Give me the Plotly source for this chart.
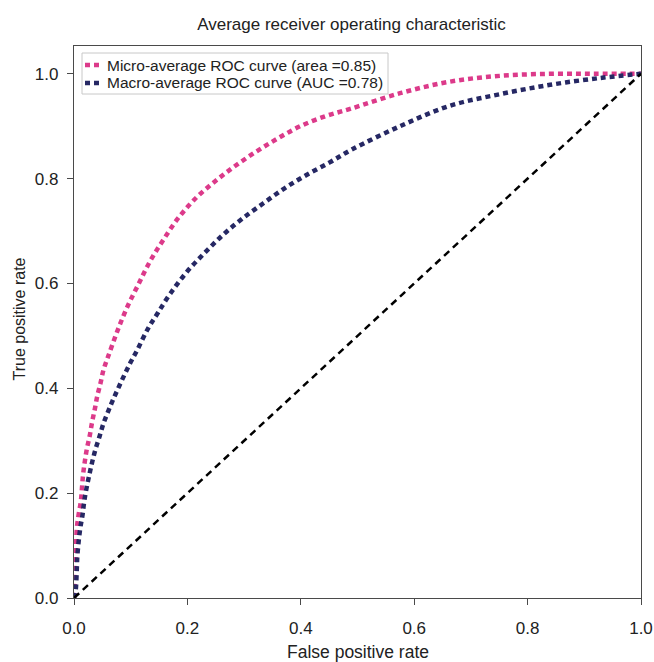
import plotly.graph_objects as go

# Micro-average ROC curve (area = 0.85)
micro_fpr = [0.0, 0.003, 0.005, 0.008, 0.012, 0.014, 0.016, 0.019, 0.023, 0.028, 0.032, 0.037, 0.041,
             0.047, 0.052, 0.060, 0.075, 0.093, 0.113, 0.134, 0.158, 0.184, 0.215, 0.249, 0.284,
             0.322, 0.360, 0.399, 0.443, 0.487, 0.575, 0.663, 0.751, 0.840, 0.920, 1.0]
micro_tpr = [0.0, 0.07, 0.133, 0.158, 0.184, 0.209, 0.235, 0.260, 0.286, 0.311, 0.336, 0.362, 0.385,
             0.411, 0.435, 0.460, 0.505, 0.553, 0.597, 0.642, 0.684, 0.725, 0.763, 0.795, 0.824,
             0.852, 0.877, 0.900, 0.919, 0.933, 0.963, 0.985, 0.996, 1.0, 1.0, 1.0]

# Macro-average ROC curve (AUC = 0.78)
macro_fpr = [0.0, 0.003, 0.004, 0.005, 0.006, 0.011, 0.015, 0.018, 0.022, 0.027, 0.032, 0.038, 0.045,
             0.052, 0.061, 0.070, 0.080, 0.090, 0.100, 0.111, 0.131, 0.148, 0.170, 0.199, 0.231,
             0.263, 0.296, 0.334, 0.372, 0.410, 0.451, 0.489, 0.575, 0.663, 0.751, 0.840, 0.928, 1.0]
macro_tpr = [0.0, 0.015, 0.031, 0.057, 0.082, 0.133, 0.158, 0.184, 0.209, 0.235, 0.259, 0.284, 0.308,
             0.333, 0.358, 0.381, 0.405, 0.428, 0.450, 0.472, 0.515, 0.544, 0.581, 0.622, 0.659,
             0.693, 0.723, 0.753, 0.782, 0.807, 0.831, 0.855, 0.900, 0.939, 0.961, 0.979, 0.992, 1.0]

# Chance line
chance_x = [0.0, 1.0]
chance_y = [0.0, 1.0]

tick_vals = [0.0, 0.2, 0.4, 0.6, 0.8, 1.0]
tick_text = ["0.0", "0.2", "0.4", "0.6", "0.8", "1.0"]

series_names = ["Micro-average ROC curve (area =0.85)", "Macro-average ROC curve (AUC =0.78)"]
series_colors = ["#dc3a8a", "#262864"]

FONT = "Liberation Sans, Arial, Helvetica, sans-serif"
TXT = "#222222"

# plot-area geometry in pixels (for placing decorations)
W, H = 654, 662
L, R, T, B = 74, 13, 46, 64
PW, PH = W - L - R, H - T - B


def px_x(px):
    return (px - L) / PW


def px_y(py):
    return (H - B - py) / PH


DOT = "5px,4px"

fig = go.Figure()
for fx, ty, name, col in [(micro_fpr, micro_tpr, series_names[0], series_colors[0]),
                          (macro_fpr, macro_tpr, series_names[1], series_colors[1])]:
    fig.add_trace(go.Scatter(
        x=fx, y=ty, mode="lines", line_shape="spline", name=name, showlegend=False,
        line=dict(color=col, width=4.5, dash=DOT),
    ))
fig.add_trace(go.Scatter(
    x=chance_x, y=chance_y, mode="lines", showlegend=False,
    line=dict(color="black", width=2.5, dash="7px,5px"),
))

# custom legend (box, samples, labels)
shapes = [dict(type="rect", xref="paper", yref="paper",
               x0=px_x(82), x1=px_x(388), y0=px_y(53), y1=px_y(94),
               line=dict(color="#c8c8c8", width=1), fillcolor="rgba(255,255,255,0.9)", layer="above")]
annotations = []
for i, (name, col) in enumerate(zip(series_names, series_colors)):
    yy = 65 + i * 18
    shapes.append(dict(type="line", xref="paper", yref="paper",
                       x0=px_x(85), x1=px_x(99), y0=px_y(yy), y1=px_y(yy),
                       line=dict(color=col, width=4.5, dash=DOT), layer="above"))
    annotations.append(dict(text=name, xref="paper", yref="paper", x=px_x(105), y=px_y(yy),
                            xanchor="left", yanchor="middle", showarrow=False,
                            font=dict(size=15.5, color=TXT, family=FONT)))

# axis titles
annotations.append(dict(text="False positive rate", xref="paper", yref="paper",
                        x=px_x(357.5), y=px_y(652), xanchor="center", yanchor="middle",
                        showarrow=False, font=dict(size=17.5, color=TXT, family=FONT)))
annotations.append(dict(text="True positive rate", xref="paper", yref="paper",
                        x=px_x(18.5), y=px_y(319), xanchor="center", yanchor="middle",
                        textangle=-90, showarrow=False, font=dict(size=16, color=TXT, family=FONT)))

fig.update_layout(
    width=W, height=H,
    margin=dict(l=L, r=R, t=T, b=B),
    paper_bgcolor="white", plot_bgcolor="white",
    font=dict(family=FONT, color=TXT, size=15),
    title=dict(text="Average receiver operating characteristic",
               xref="paper", x=px_x(351.5), xanchor="center",
               yref="container", y=1 - 24 / H, yanchor="middle",
               font=dict(size=17, color=TXT)),
    shapes=shapes, annotations=annotations,
    showlegend=False,
)
fig.update_xaxes(
    range=[0, 1], tickvals=tick_vals, ticktext=tick_text, automargin=False,
    showgrid=False, zeroline=False,
    showline=True, linecolor="#4a4a4a", linewidth=1.3, mirror=True,
    ticks="outside", ticklen=6, tickcolor="#4a4a4a", ticklabelstandoff=8,
    tickfont=dict(size=17, color=TXT),
)
fig.update_yaxes(
    range=[0, 1.053], tickvals=tick_vals, ticktext=tick_text, automargin=False,
    showgrid=False, zeroline=False,
    showline=True, linecolor="#4a4a4a", linewidth=1.3, mirror=True,
    ticks="outside", ticklen=6, tickcolor="#4a4a4a", ticklabelstandoff=5,
    tickfont=dict(size=17, color=TXT),
)

fig.write_html("out.html")
